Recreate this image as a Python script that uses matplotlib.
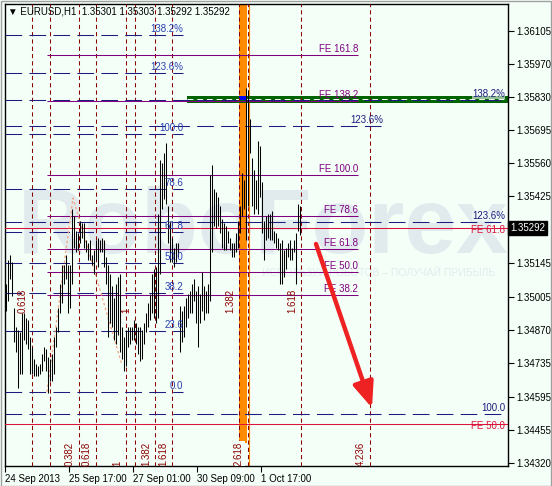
import matplotlib
matplotlib.use("Agg")
import matplotlib.pyplot as plt
import matplotlib.transforms as mtransforms
from matplotlib.patches import Rectangle

plt.rcParams['font.family'] = ['Liberation Sans', 'DejaVu Sans']

# EURUSD H1 bars (high / low)
highs = [1.3506, 1.3516, 1.3518, 1.3515, 1.3496, 1.3488, 1.3487, 1.3486, 1.3494, 1.3494,
         1.3492, 1.3491, 1.3484, 1.3480, 1.3475, 1.3473, 1.3472, 1.3473, 1.3477, 1.3480,
         1.3479, 1.3476, 1.3475, 1.3477, 1.3484, 1.3488, 1.3496, 1.3506, 1.3514, 1.3514,
         1.3518, 1.3514, 1.3514, 1.3537, 1.3534, 1.3528, 1.3527, 1.3532, 1.3531, 1.3531,
         1.3524, 1.3523, 1.3524, 1.3518, 1.3520, 1.3524, 1.3525, 1.3524, 1.3525, 1.3524,
         1.3517, 1.3514, 1.3510, 1.3505, 1.3500, 1.3506, 1.3509, 1.3510, 1.3488, 1.3484,
         1.3487, 1.3488, 1.3488, 1.3488, 1.3491, 1.3490, 1.3488, 1.3488, 1.3487, 1.3490,
         1.3494, 1.3498, 1.3502, 1.3510, 1.3512, 1.3513, 1.3535, 1.3557, 1.3556, 1.3560,
         1.3564, 1.3538, 1.3532, 1.3525, 1.3521, 1.3523, 1.3523, 1.3497, 1.3495, 1.3497,
         1.3500, 1.3502, 1.3503, 1.3506, 1.3508, 1.3503, 1.3505, 1.3502, 1.3511, 1.3505,
         1.3503, 1.3506, 1.3551, 1.3555, 1.3545, 1.3544, 1.3542, 1.3538, 1.3533, 1.3531,
         1.3530, 1.3528, 1.3525, 1.3523, 1.3523, 1.3527, 1.3532, 1.3538, 1.3552, 1.3549,
         1.3587, 1.3586, 1.3574, 1.3558, 1.3553, 1.3549, 1.3565, 1.3563, 1.3548, 1.3532,
         1.3534, 1.3535, 1.3535, 1.3536, 1.3528, 1.3527, 1.3525, 1.3523, 1.3524, 1.3520,
         1.3521, 1.3523, 1.3524, 1.3521, 1.3524, 1.3527, 1.3539, 1.3538]
lows = [1.3495, 1.3499, 1.3508, 1.3501, 1.3482, 1.3478, 1.3463, 1.3469, 1.3469, 1.3483,
        1.3481, 1.3479, 1.3469, 1.3469, 1.3468, 1.3468, 1.3468, 1.3469, 1.3470, 1.3474,
        1.3470, 1.3461, 1.3466, 1.3466, 1.3469, 1.3480, 1.3486, 1.3494, 1.3498, 1.3506,
        1.3508, 1.3494, 1.3496, 1.3506, 1.3521, 1.3519, 1.3520, 1.3523, 1.3525, 1.3521,
        1.3519, 1.3516, 1.3516, 1.3514, 1.3510, 1.3516, 1.3513, 1.3519, 1.3519, 1.3513,
        1.3506, 1.3484, 1.3490, 1.3488, 1.3483, 1.3481, 1.3485, 1.3478, 1.3475, 1.3470,
        1.3472, 1.3480, 1.3481, 1.3483, 1.3483, 1.3481, 1.3477, 1.3474, 1.3475, 1.3481,
        1.3486, 1.3488, 1.3491, 1.3494, 1.3492, 1.3490, 1.3492, 1.3510, 1.3537, 1.3541,
        1.3539, 1.3523, 1.3515, 1.3515, 1.3513, 1.3515, 1.3517, 1.3478, 1.3482, 1.3484,
        1.3488, 1.3492, 1.3494, 1.3494, 1.3499, 1.3490, 1.3480, 1.3490, 1.3495, 1.3491,
        1.3494, 1.3494, 1.3499, 1.3519, 1.3530, 1.3529, 1.3530, 1.3527, 1.3521, 1.3520,
        1.3520, 1.3523, 1.3520, 1.3517, 1.3517, 1.3519, 1.3521, 1.3527, 1.3534, 1.3537,
        1.3524, 1.3538, 1.3560, 1.3538, 1.3535, 1.3537, 1.3535, 1.3542, 1.3527, 1.3516,
        1.3524, 1.3525, 1.3524, 1.3524, 1.3523, 1.3521, 1.3520, 1.3506, 1.3506, 1.3509,
        1.3512, 1.3517, 1.3516, 1.3516, 1.3519, 1.3506, 1.3528, 1.3526]

x_ticks = [0, 32, 64, 96, 128]
x_labels = ["24 Sep 2013", "25 Sep 17:00", "27 Sep 01:00", "30 Sep 09:00", "1 Oct 17:00"]
y_ticks = [1.36105, 1.35970, 1.35830, 1.35695, 1.35560, 1.35425, 1.35145,
           1.35005, 1.34870, 1.34735, 1.34595, 1.34455, 1.34320]
last_price = 1.35292
header = "EURUSD,H1  1.35301 1.35303 1.35292 1.35292"

# fibo retracement (left)
fib_low, fib_high = 1.34614, 1.35680
fib_levels = [0.0, 23.6, 38.2, 50.0, 61.8, 78.6, 100.0, 123.6, 138.2]
fib_names = ["0.0", "23.6", "38.2", "50.0", "61.8", "78.6", "100.0", "123.6%", "138.2%"]
# long retracement lines (to the right edge)
fib2_prices = [1.34523, 1.35316, 1.35820]
fib2_names = ["100.0", "123.6%", "138.2%"]
fib3_prices = [1.35713]
fib3_names = ["123.6%"]

# fibo expansion (purple)
fe_base, fe_top = 1.34709, 1.35510
fe_levels = [38.2, 50.0, 61.8, 78.6, 100.0, 138.2, 161.8]
# fibo expansion (crimson)
fe2_prices = [1.35291, 1.34482]
fe2_names = ["FE 61.8", "FE 50.0"]

# fibo time zones
tz1_pos = [13.5, 65, 117, 148]
tz1_names = ["0.618", "1", "1.382", "1.618"]
tz2_pos = [22.5, 37, 45.5, 60.5, 75, 83.5, 121.5, 182.5]
tz2_names = ["", "0.382", "0.618", "1", "1.382", "1.618", "2.618", "4.236"]

# zigzag
zz_x = [21, 34, 58.5]
zz_y = [1.34614, 1.35415, 1.34725]

# forecast arrow
arrow_from = (155.5, 1.35225)
arrow_to = (183.5, 1.34548)

bg = '#f4fff8'
navy = '#1c1c80'
purple = '#800080'
crimson = '#dc143c'
dred = '#8b0000'
fs = 7

fig = plt.figure(figsize=(5.52, 4.86), dpi=100, facecolor=bg)
ax = fig.add_axes([5 / 552, 20 / 486, 503 / 552, 462 / 486])
ax.set_facecolor(bg)
ax.set_xlim(0, 251.5)
ax.set_ylim(1.34308, 1.36216)

# watermark
ax.text(0.026, 0.461, "RoboForex", transform=ax.transAxes, fontsize=67,
        fontweight='bold', color='#e1ebee', ha='left', va='baseline', zorder=0)
ax.text(0.974, 0.411, "ИСПОЛЬЗУЙ РОБОТОВ – ПОЛУЧАЙ ПРИБЫЛЬ", transform=ax.transAxes,
        fontsize=7.5, color='#e1ebee', ha='right', va='baseline', zorder=0)

# orange time zone band
ax.fill_between([117, 121], 1.34403, 1.36216, color='#ff8c00', lw=0, zorder=1)
ax.axvline(121.3, color='white', lw=0.6, zorder=1.5)
ax.axvline(121.8, color='#ff8c00', lw=0.8, zorder=1.5)

# green zone
ax.fill_between([91, 251.5], 1.35808, 1.35838, color='#006400', lw=0, zorder=2)
ax.hlines(1.35822, 91, 251.5, color='white', lw=0.7, linestyles=(0, (6, 4)), zorder=2.5)
ax.fill_between([117, 121], 1.35820, 1.35838, color='#0000ee', lw=0, zorder=2.6)

# time zones
for pos, name in zip(tz1_pos, tz1_names):
    ax.axvline(pos, color=dred, lw=0.75, dashes=(4, 3), zorder=3)
    ax.text(pos - 2, 1.3494, name, rotation=90, color=dred, fontsize=fs,
            ha='right', va='bottom', zorder=6)
for pos, name in zip(tz2_pos, tz2_names):
    ax.axvline(pos, color=dred, lw=0.75, dashes=(4, 3), zorder=3)
    if name:
        bb = dict(fc=bg, ec='none', pad=0.5) if name == "2.618" else None
        ax.text(pos - 2, 1.3431, name, rotation=90, color=dred, fontsize=fs,
                ha='right', va='bottom', zorder=6, bbox=bb)

# retracement lines
for lvl, name in zip(fib_levels, fib_names):
    p = fib_low + (fib_high - fib_low) * lvl / 100
    ax.hlines(p, 0, 89, color=navy, lw=0.75, linestyles=(0, (16, 7)), zorder=3)
    ax.text(89, p + 0.00004, name, color='#2a3fb0', fontsize=fs, ha='right',
            va='bottom', zorder=6)
for p, name in zip(fib3_prices, fib3_names):
    ax.hlines(p, 0, 189, color=navy, lw=0.75, linestyles=(0, (16, 7)), zorder=3)
    ax.text(189, p + 0.00004, name, color=navy, fontsize=fs, ha='right',
            va='bottom', zorder=6)

# crimson expansion lines
for p, name in zip(fe2_prices, fe2_names):
    ax.axhline(p, color=crimson, lw=0.75, zorder=3)
    ax.text(250, p - 0.0003, name, color=crimson, fontsize=fs, ha='right',
            va='bottom', zorder=5)

for p, name in zip(fib2_prices, fib2_names):
    ax.hlines(p, 0, 251.5, color=navy, lw=0.75, linestyles=(0, (16, 7)), zorder=3)
    ax.text(250, p + 0.00004, name, color=navy, fontsize=fs, ha='right',
            va='bottom', zorder=6, bbox=dict(fc=bg, ec='none', pad=0.3, alpha=0.6))

# purple expansion lines
for lvl in fe_levels:
    p = fe_base + (fe_top - fe_base) * lvl / 100
    ax.hlines(p, 21, 176.5, color=purple, lw=0.75, zorder=3)
    ax.text(176.5, p + 0.00004, "FE %.1f" % lvl, color=purple, fontsize=fs,
            ha='right', va='bottom', zorder=6)

# zigzag
ax.plot(zz_x, zz_y, color='#f4a582', lw=0.9, dashes=(2, 2), zorder=3.5)

# bars
xs = [i + 0.5 for i in range(len(highs))]
ax.vlines(xs, lows, highs, color='black', lw=0.75, zorder=4)

# forecast arrow
ax.annotate("", xy=arrow_to, xytext=arrow_from,
            arrowprops=dict(arrowstyle='-|>,head_length=1.1,head_width=0.45',
                            lw=3.2, color='#ee2222', shrinkA=0, shrinkB=0,
                            mutation_scale=14), zorder=7)

# header
ax.text(0.006, 0.983, "\u25bc " + header, transform=ax.transAxes, fontsize=7,
        ha='left', va='center', zorder=8)

# axes styling
ax.yaxis.tick_right()
ax.set_yticks(y_ticks)
ax.set_yticklabels(["%.5f" % v for v in y_ticks])
ax.set_xticks(x_ticks)
ax.set_xticklabels(x_labels, ha='left')
ax.tick_params(axis='both', labelsize=7, length=4, width=0.8, pad=2, colors='black')
for s in ax.spines.values():
    s.set_linewidth(1)
    s.set_color('black')

trans = mtransforms.blended_transform_factory(ax.transAxes, ax.transData)
ax.text(1.004, last_price, "%.5f" % last_price, transform=trans, color='white',
        fontsize=7, ha='left', va='center', zorder=10, clip_on=False,
        bbox=dict(fc='black', ec='black', pad=1.5))

fig.patches.append(Rectangle((0.001, 0.001), 0.997, 0.997, transform=fig.transFigure,
                             fill=False, ec='#a0a0a0', lw=1))

fig.savefig("out.png", dpi=100, facecolor=bg)
